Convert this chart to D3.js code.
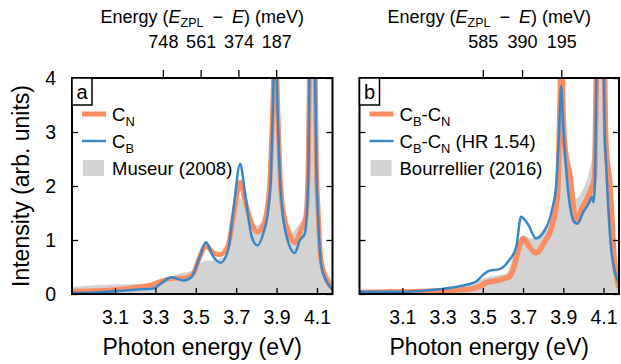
<!DOCTYPE html>
<html>
<head>
<meta charset="utf-8">
<script src="https://cdn.jsdelivr.net/npm/d3@7"></script>
<style>
  body { margin: 0; background: #fff; }
  text { font-family: "Liberation Sans", Arial, sans-serif; fill: #000; }
</style>
</head>
<body>
<script>
// ---- data: [photon energy (eV), intensity] ----
var cnA = [[2.887,0.05],[3.0,0.06],[3.1,0.08],[3.2,0.12],[3.29,0.18],[3.33,0.24],[3.37,0.28],[3.39,0.29],[3.43,0.29],[3.46,0.31],[3.488,0.38],[3.52,0.69],[3.55,0.90],[3.587,0.76],[3.62,0.73],[3.66,0.90],[3.686,1.43],[3.72,2.07],[3.744,1.73],[3.777,1.30],[3.805,1.15],[3.834,1.27],[3.865,1.98],[3.88,3.3],[3.893,4.8],[3.907,3.3],[3.92,2.0],[3.935,1.49],[3.96,1.15],[3.99,0.95],[4.02,1.18],[4.045,1.43],[4.057,2.4],[4.064,4.5],[4.077,9],[4.09,4.5],[4.097,2.4],[4.105,1.6],[4.118,0.69],[4.148,0.26],[4.177,0.12]];
var cbA = [[2.887,0.02],[3.0,0.03],[3.1,0.05],[3.2,0.08],[3.29,0.10],[3.32,0.17],[3.36,0.28],[3.38,0.31],[3.41,0.28],[3.44,0.25],[3.48,0.32],[3.52,0.69],[3.55,0.96],[3.587,0.69],[3.623,0.58],[3.66,0.81],[3.686,1.55],[3.72,2.41],[3.744,1.86],[3.777,1.06],[3.805,0.90],[3.834,1.12],[3.86,1.61],[3.872,2.2],[3.882,3.5],[3.894,5.0],[3.905,3.4],[3.915,2.3],[3.93,1.5],[3.95,1.06],[3.99,0.76],[4.016,1.0],[4.04,1.12],[4.05,1.5],[4.058,2.4],[4.064,4.5],[4.077,9],[4.09,4.5],[4.097,2.4],[4.105,1.5],[4.123,0.5],[4.148,0.23],[4.177,0.08]];
var museurA = [[2.887,0.13],[2.95,0.15],[3.05,0.17],[3.15,0.18],[3.29,0.20],[3.34,0.26],[3.42,0.38],[3.49,0.44],[3.537,0.60],[3.6,0.63],[3.64,0.70],[3.665,0.78],[3.686,1.37],[3.72,1.77],[3.744,1.61],[3.777,1.37],[3.80,1.27],[3.84,1.43],[3.87,2.2],[3.88,3.2],[3.893,4.6],[3.905,3.4],[3.92,2.2],[3.94,1.49],[3.97,1.12],[4.0,1.24],[4.04,1.49],[4.057,2.4],[4.064,4.5],[4.077,9],[4.09,4.5],[4.097,2.4],[4.12,0.69],[4.15,0.40],[4.177,0.26]];

var cbcnB = [[2.886,0.03],[3.1,0.04],[3.3,0.06],[3.434,0.09],[3.484,0.14],[3.517,0.21],[3.56,0.24],[3.6,0.28],[3.632,0.32],[3.655,0.5],[3.674,0.78],[3.702,1.03],[3.732,0.87],[3.765,0.76],[3.806,0.96],[3.847,1.30],[3.872,1.86],[3.882,3.2],[3.891,4.5],[3.90,3.2],[3.912,2.6],[3.93,2.28],[3.963,1.36],[3.996,1.61],[4.03,1.86],[4.055,2.16],[4.06,3.0],[4.066,4.5],[4.085,10],[4.104,4.5],[4.11,3.0],[4.12,2.4],[4.129,2.16],[4.154,0.63],[4.177,0.12]];
var hrB = [[2.886,0.04],[3.0,0.04],[3.12,0.04],[3.2,0.06],[3.285,0.09],[3.351,0.12],[3.418,0.17],[3.467,0.23],[3.5,0.35],[3.533,0.43],[3.583,0.46],[3.632,0.63],[3.666,0.87],[3.69,1.43],[3.723,1.30],[3.765,1.03],[3.798,1.12],[3.847,1.61],[3.864,1.98],[3.88,3.09],[3.889,3.85],[3.9,3.09],[3.922,1.98],[3.955,1.33],[3.97,1.30],[4.0,1.52],[4.03,1.70],[4.043,1.80],[4.05,1.70],[4.058,2.1],[4.066,4.5],[4.084,9],[4.1,4.5],[4.106,3.0],[4.112,2.47],[4.137,0.87],[4.16,0.36],[4.177,0.2]];
var bourrellierB = [[2.886,0.04],[2.98,0.05],[3.037,0.10],[3.08,0.05],[3.15,0.04],[3.285,0.07],[3.40,0.15],[3.45,0.21],[3.533,0.32],[3.616,0.38],[3.66,0.81],[3.699,1.09],[3.74,1.03],[3.80,1.21],[3.847,1.55],[3.87,2.0],[3.88,3.2],[3.889,4.6],[3.90,3.3],[3.91,2.66],[3.93,2.41],[3.963,1.77],[3.996,1.92],[4.03,2.29],[4.045,2.6],[4.06,3.6],[4.08,9],[4.10,4.5],[4.115,3.4],[4.125,2.7],[4.137,1.5],[4.16,0.6],[4.177,0.35]];

var bottomTicks = [3.1, 3.3, 3.5, 3.7, 3.9, 4.1];
var yTicks = [0, 1, 2, 3, 4];
var topTicksA = [748, 561, 374, 187];   // meV below ZPL
var topTicksB = [585, 390, 195];
var zpl = 4.085;

var W = 621, H = 364;
var orange = "#fc8d62", blue = "#3a87c5", grey = "#d3d3d3";

var svg = d3.select("body").append("svg").attr("width", W).attr("height", H);

var y = d3.scaleLinear().domain([0, 4]).range([294, 78]);

var panels = [
  {id: "a", x0: 72, x1: 332.5, topTicks: topTicksA, yLabels: true,
   fill: museurA, thick: cnA, thin: cbA, thickW: 5, thinW: 2.5,
   labels: [["C", "N"], ["C", "B"], "Museur (2008)"]},
  {id: "b", x0: 359.5, x1: 619, topTicks: topTicksB, yLabels: false,
   fill: bourrellierB, thick: cbcnB, thin: hrB, thickW: 5.5, thinW: 2.5,
   labels: [["C", "B", "-C", "N"], ["C", "B", "-C", "N", " (HR 1.54)"], "Bourrellier (2016)"]}
];

// writes text with alternating normal / subscript parts
function subText(t, parts, size) {
  parts.forEach(function (p, i) {
    var sub = i % 2 == 1;
    t.append("tspan").text(p)
      .attr("font-size", sub ? size * 0.7 : size)
      .attr("dy", i == 0 ? 0 : (sub ? 5 : -5));
  });
}

panels.forEach(function (p) {
  var x = d3.scaleLinear().domain([2.887, 4.177]).range([p.x0, p.x1]);
  var g = svg.append("g");

  var clipId = "clip" + p.id;
  g.append("clipPath").attr("id", clipId).append("rect")
    .attr("x", p.x0).attr("y", y(4)).attr("width", p.x1 - p.x0).attr("height", y(0) - y(4));

  var plot = g.append("g").attr("clip-path", "url(#" + clipId + ")");
  var area = d3.area().x(d => x(d[0])).y0(y(0)).y1(d => y(d[1])).curve(d3.curveMonotoneX);
  var line = d3.line().x(d => x(d[0])).y(d => y(d[1])).curve(d3.curveMonotoneX);

  plot.append("path").datum(p.fill).attr("d", area).attr("fill", grey);
  plot.append("path").datum(p.thick).attr("d", line).attr("fill", "none")
    .attr("stroke", orange).attr("stroke-width", p.thickW).attr("stroke-linejoin", "round");
  plot.append("path").datum(p.thin).attr("d", line).attr("fill", "none")
    .attr("stroke", blue).attr("stroke-width", p.thinW).attr("stroke-linejoin", "round");

  // bottom axis, ticks inside
  var xb = g.append("g").attr("transform", "translate(0," + y(0) + ")")
    .call(d3.axisBottom(x).tickValues(bottomTicks).tickFormat(d3.format(".1f")).tickSizeInner(-6).tickSizeOuter(0).tickPadding(16));
  // top axis, energy below the ZPL
  var xt = g.append("g").attr("transform", "translate(0," + y(4) + ")")
    .call(d3.axisTop(x).tickValues(p.topTicks.map(d => zpl - d / 1000))
      .tickFormat((d, i) => p.topTicks[i]).tickSizeInner(8).tickSizeOuter(0).tickPadding(22));
  var yl = g.append("g").attr("transform", "translate(" + p.x0 + ",0)")
    .call(d3.axisLeft(y).tickValues(yTicks).tickFormat(d3.format("d")).tickSizeInner(-6).tickSizeOuter(0).tickPadding(16));
  var yr = g.append("g").attr("transform", "translate(" + p.x1 + ",0)")
    .call(d3.axisRight(y).tickValues(yTicks).tickSizeInner(-6).tickSizeOuter(0).tickFormat(""));

  [xb, xt, yl, yr].forEach(function (a) {
    a.select(".domain").remove();
    a.selectAll("line").attr("stroke", "#000").attr("stroke-width", 1.3);
    a.selectAll("text").attr("font-family", "Liberation Sans, Arial, sans-serif").attr("fill", "#000");
  });
  xb.selectAll("text").attr("font-size", 19.5);
  xt.selectAll("text").attr("font-size", 18);
  yl.selectAll("text").attr("font-size", 19.5);
  if (!p.yLabels) yl.selectAll("text").remove();

  // frame
  g.append("rect").attr("x", p.x0).attr("y", y(4)).attr("width", p.x1 - p.x0).attr("height", y(0) - y(4))
    .attr("fill", "none").attr("stroke", "#000").attr("stroke-width", 2);

  // panel letter
  g.append("rect").attr("x", p.x0).attr("y", y(4)).attr("width", 20).attr("height", 27)
    .attr("fill", "#fff").attr("stroke", "#000").attr("stroke-width", 1.5);
  g.append("text").attr("x", p.x0 + 10).attr("y", y(4) + 21).attr("text-anchor", "middle")
    .attr("font-size", 20).text(p.id);

  // legend
  var lg = g.append("g").attr("transform", "translate(" + (p.x0 + 10) + ",0)");
  var rows = [114, 141, 168];
  lg.append("line").attr("x1", 0).attr("x2", 24).attr("y1", rows[0]).attr("y2", rows[0])
    .attr("stroke", orange).attr("stroke-width", 5);
  lg.append("line").attr("x1", 0).attr("x2", 24).attr("y1", rows[1]).attr("y2", rows[1])
    .attr("stroke", blue).attr("stroke-width", 2.5);
  lg.append("rect").attr("x", 1).attr("y", rows[2] - 8).attr("width", 21).attr("height", 16).attr("fill", grey);
  p.labels.forEach(function (lab, i) {
    var t = lg.append("text").attr("x", 30).attr("y", rows[i] + 6.5).attr("font-size", 18.5);
    if (typeof lab == "string") t.text(lab);
    else subText(t, lab, 18.5);
  });

  // axis titles
  var cx = (p.x0 + p.x1) / 2;
  g.append("text").attr("x", cx).attr("y", 355).attr("text-anchor", "middle")
    .attr("font-size", 23).text("Photon energy (eV)");
  var tt = g.append("text").attr("x", cx).attr("y", 23).attr("text-anchor", "middle").attr("font-size", 18);
  tt.append("tspan").text("Energy (");
  tt.append("tspan").attr("font-style", "italic").text("E");
  tt.append("tspan").attr("font-size", 12.5).attr("dy", 4).text("ZPL");
  tt.append("tspan").attr("dy", -4).text("\u2002\u2212\u2002");
  tt.append("tspan").attr("font-style", "italic").text("E");
  tt.append("tspan").text(") (meV)");
});

svg.append("text").attr("transform", "translate(29,186) rotate(-90)").attr("text-anchor", "middle")
  .attr("font-size", 23).text("Intensity (arb. units)");
</script>
</body>
</html>
